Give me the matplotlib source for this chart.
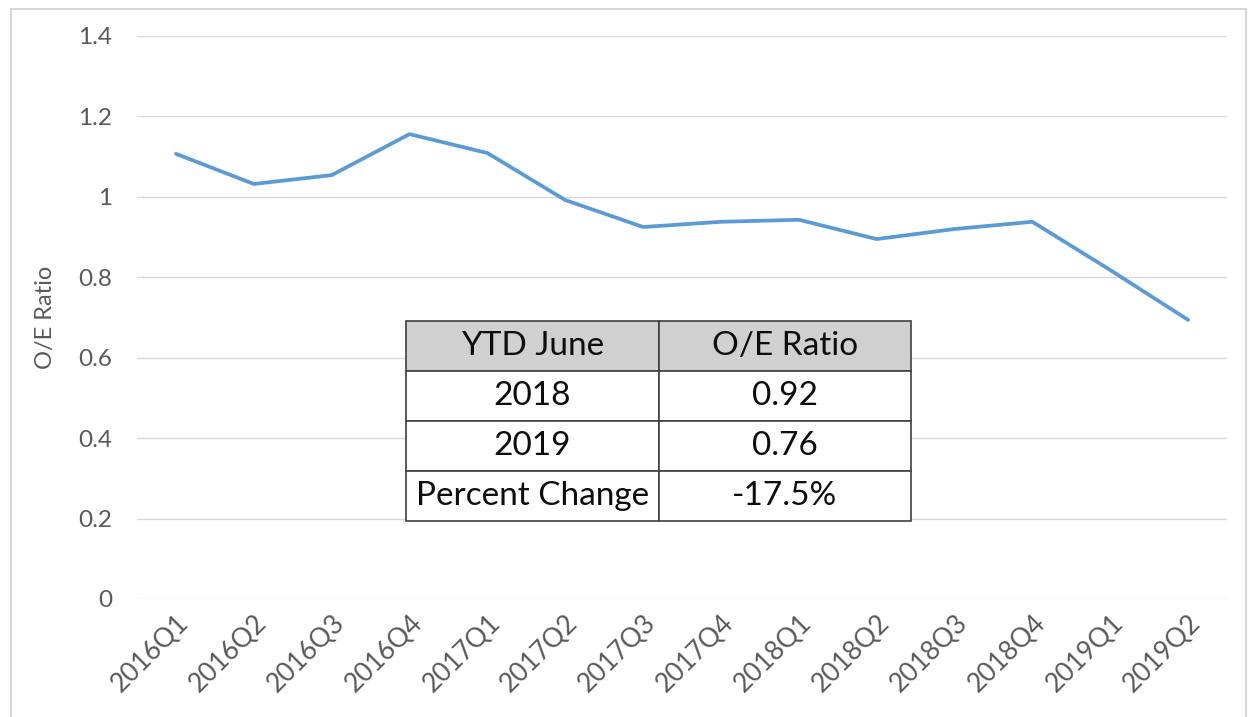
import matplotlib.pyplot as plt
from matplotlib.lines import Line2D

# quarterly O/E ratio
quarters = ['2016Q1', '2016Q2', '2016Q3', '2016Q4', '2017Q1', '2017Q2', '2017Q3',
            '2017Q4', '2018Q1', '2018Q2', '2018Q3', '2018Q4', '2019Q1', '2019Q2']
ratio = [1.107, 1.032, 1.054, 1.156, 1.109, 0.992, 0.925,
         0.938, 0.943, 0.895, 0.920, 0.938, 0.818, 0.694]

# summary table
table_header = ['YTD June', 'O/E Ratio']
table_rows = [['2018', '0.92'],
              ['2019', '0.76'],
              ['Percent Change', '-17.5%']]

plt.rcParams['font.family'] = ['Lato', 'DejaVu Sans']

fig = plt.figure(figsize=(12.49, 7.17), dpi=100)
ax = fig.add_axes([0.1097, 0.1646, 0.8727, 0.7852])

x = range(len(quarters))
ax.plot(x, ratio, color='#5B9BD5', lw=2.7, solid_capstyle='round', zorder=3)

ax.set_xlim(-0.5, len(quarters) - 0.5)
ax.set_ylim(0, 1.4)
ax.set_yticks([0, 0.2, 0.4, 0.6, 0.8, 1, 1.2, 1.4])
ax.set_yticklabels(['0', '0.2', '0.4', '0.6', '0.8', '1', '1.2', '1.4'])
ax.set_xticks(list(x))
ax.set_xticklabels(quarters, rotation=45, ha='right', rotation_mode='anchor')
ax.tick_params(axis='both', length=0, colors='#595959', labelsize=19)
ax.tick_params(axis='y', pad=18, labelsize=17.5)
ax.tick_params(axis='x', pad=8)
ax.grid(axis='y', color='#d9d9d9', lw=1)
ax.set_axisbelow(True)
for s in ax.spines.values():
    s.set_visible(False)
ax.set_ylabel('O/E Ratio', fontsize=17, color='#595959')
ax.yaxis.set_label_coords(-0.074, 0.5)

tbl = ax.table(cellText=table_rows, colLabels=table_header, cellLoc='center',
               bbox=[0.2468, 0.1385, 0.4633, 0.3552])
tbl.set_zorder(5)
tbl.auto_set_font_size(False)
for (r, c), cell in tbl.get_celld().items():
    cell.set_edgecolor('#404040')
    cell.set_linewidth(1.2)
    cell.set_facecolor('#d0d0d0' if r == 0 else 'white')
    cell.get_text().set_fontsize(24)
    cell.get_text().set_color('#0d0d0d')

# spreadsheet frame around the chart
fig.add_artist(Line2D([11/1249, 11/1249], [0, 1 - 9/717], color='#d0d0d0', lw=1.2))
fig.add_artist(Line2D([11/1249, 1246/1249], [1 - 9/717, 1 - 9/717], color='#d0d0d0', lw=1.2))
fig.add_artist(Line2D([1246/1249, 1246/1249], [0, 1 - 9/717], color='#d0d0d0', lw=1.2))

plt.savefig('out.png', dpi=100)
plt.close()
